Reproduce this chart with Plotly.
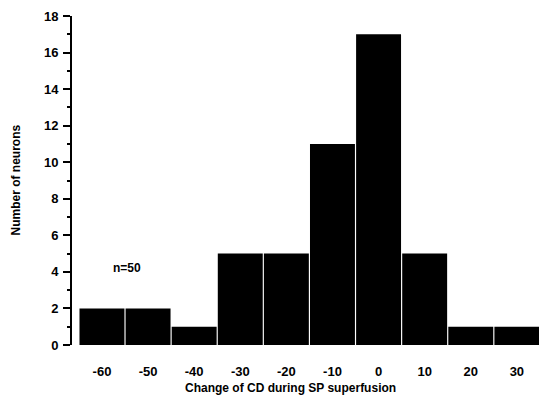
import plotly.graph_objects as go

categories = [-60, -50, -40, -30, -20, -10, 0, 10, 20, 30]
counts = [2, 2, 1, 5, 5, 11, 17, 5, 1, 1]
y_ticks = [0, 2, 4, 6, 8, 10, 12, 14, 16, 18]
x_title = "Change of CD during SP superfusion"
y_title = "Number of neurons"
note = "n=50"

FONT = "Liberation Sans"

fig = go.Figure()
fig.add_trace(go.Bar(
    x=categories, y=counts, width=9.75,
    marker=dict(color="black", line=dict(width=0)),
))

fig.update_layout(
    width=539, height=400,
    margin=dict(l=72, r=0, t=16, b=55, autoexpand=False),
    plot_bgcolor="white", paper_bgcolor="white",
    showlegend=False,
    font=dict(family=FONT, color="black", size=13),
    xaxis=dict(
        range=[-66.5, 34.8],
        tickvals=categories,
        ticktext=[str(c) for c in categories],
        showline=False, showgrid=False, zeroline=False,
        ticks="", ticklabelstandoff=17, automargin=False,
        tickfont=dict(family=FONT, size=13, weight="bold"),
    ),
    yaxis=dict(
        range=[0, 18],
        tickvals=y_ticks,
        showline=True, linecolor="black", linewidth=2,
        showgrid=False, zeroline=False, automargin=False,
        ticks="outside", ticklen=7, tickwidth=2, tickcolor="black",
        minor=dict(dtick=1, ticks="outside", ticklen=3, tickwidth=1.5, tickcolor="black"),
        ticklabelstandoff=2,
        tickfont=dict(family=FONT, size=13, weight="bold"),
    ),
)

fig.add_annotation(
    x=-54.5, y=4.2, text=note, showarrow=False,
    font=dict(family=FONT, size=12, weight="bold"),
)
fig.add_annotation(
    xref="paper", yref="paper", x=0.467, y=-0.131, yanchor="middle",
    text=x_title, showarrow=False,
    font=dict(family=FONT, size=12, weight="bold"),
)
fig.add_annotation(
    xref="paper", yref="paper", x=-0.122, y=0.50, xanchor="center", yanchor="middle",
    text=y_title, showarrow=False, textangle=-90,
    font=dict(family=FONT, size=12, weight="bold"),
)

fig.write_html(
    "out.html",
    config={"displayModeBar": False},
    post_script="document.body.style.margin='0px';document.body.style.overflow='hidden';",
)
